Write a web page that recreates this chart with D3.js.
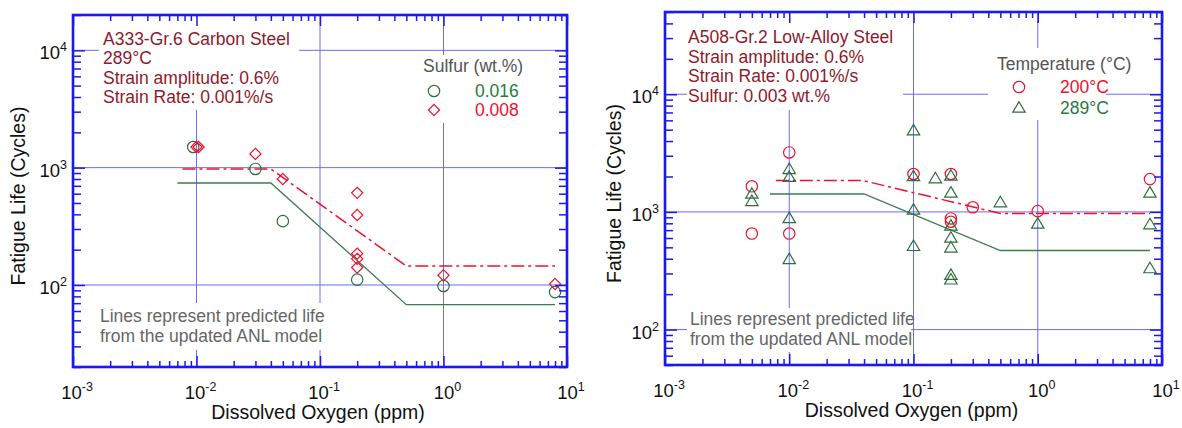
<!DOCTYPE html>
<html><head><meta charset="utf-8">
<script src="https://cdn.jsdelivr.net/npm/d3@7"></script>
<style>
body{margin:0;background:#fff}
svg{display:block}
text{font-family:"Liberation Sans",Arial,sans-serif}
</style>
</head><body>
<svg id="chart" width="1182" height="428"></svg>
<script>
// ---------------- DATA ----------------
const xTickExponents = ["-3", "-2", "-1", "0", "1"];
const xTickValues = [0.001, 0.01, 0.1, 1, 10];
const yTickExponents = ["2", "3", "4"];
const yTickValues = [100, 1000, 10000];
const gridXValues = [0.01, 0.1, 1];
const gridYValues = [100, 1000, 10000];

// Left panel: A333-Gr.6 carbon steel
const leftTitleLines = ["A333-Gr.6 Carbon Steel", "289°C", "Strain amplitude: 0.6%", "Strain Rate: 0.001%/s"];
const leftLegendTitle = "Sulfur (wt.%)";
const leftSeriesNames = ["0.016", "0.008"];
const leftS016_DO = [0.0094, 0.03, 0.05, 0.2, 1.0, 8];
const leftS016_N  = [1500, 975, 350, 111, 98, 87];
const leftS008_DO = [0.0100, 0.0104, 0.03, 0.05, 0.2, 0.2, 0.2, 0.2, 0.2, 1.0, 8];
const leftS008_N  = [1500, 1500, 1310, 800, 610, 395, 185, 167, 141, 121, 102];
const leftModel016_DO = [0.007, 0.04, 0.5, 8];
const leftModel016_N  = [740, 740, 68, 68];
const leftModel008_DO = [0.0077, 0.04, 0.5, 8];
const leftModel008_N  = [975, 975, 145, 145];

// Right panel: A508-Gr.2 low-alloy steel
const rightTitleLines = ["A508-Gr.2 Low-Alloy Steel", "Strain amplitude: 0.6%", "Strain Rate: 0.001%/s", "Sulfur: 0.003 wt.%"];
const rightLegendTitle = "Temperature (°C)";
const rightSeriesNames = ["200°C", "289°C"];
const right200_DO = [0.005, 0.005, 0.01, 0.01, 0.1, 0.2, 0.2, 0.2, 0.3, 1.0, 8];
const right200_N  = [1650, 655, 3200, 655, 2100, 2100, 880, 825, 1095, 1015, 1900];
const right289_DO = [0.005, 0.005, 0.01, 0.01, 0.01, 0.01, 0.1, 0.1, 0.1, 0.1, 0.15, 0.2, 0.2, 0.2, 0.2, 0.2, 0.2, 0.2, 0.5, 1.0, 8, 8, 8];
const right289_N  = [1420, 1230, 2300, 1970, 880, 395, 4900, 2000, 1040, 510, 1920, 2020, 1450, 760, 600, 495, 290, 265, 1200, 790, 1450, 780, 330];
const rightModel289_DO = [0.007, 0.04, 0.5, 8];
const rightModel289_N  = [1420, 1420, 470, 470];
const rightModel200_DO = [0.0078, 0.039, 0.5, 8];
const rightModel200_N  = [1850, 1850, 970, 970];

const noteLines = ["Lines represent predicted life", "from the updated ANL model"];
const xAxisTitle = "Dissolved Oxygen (ppm)";
const yAxisTitle = "Fatigue Life (Cycles)";

// ---------------- STYLE ----------------
const FRAME = "#1a1af0", GRID = "#6c6cf4";
const RED = "#ec1230", GREEN = "#2f6e3e", GREENLINE = "#3d7d4c";
const DARKRED = "#8e1a2c", GRAY = "#666666";
const FS = 17.5;

const svg = d3.select("#chart");

const symCircle = { draw(ctx, s){ const r = 5.7; ctx.moveTo(r,0); ctx.arc(0,0,r,0,2*Math.PI); } };
const symDiamond = { draw(ctx, s){ const a = 5.6; ctx.moveTo(0,-a); ctx.lineTo(a,0); ctx.lineTo(0,a); ctx.lineTo(-a,0); ctx.closePath(); } };
const symTriangle = { draw(ctx, s){ const w = 6.2, h = 10.5; ctx.moveTo(0,-h*0.6); ctx.lineTo(w,h*0.4); ctx.lineTo(-w,h*0.4); ctx.closePath(); } };

function drawPanel(o) {
  const x = d3.scaleLog().domain(o.xDomain).range([o.x0, o.x1]);
  const y = d3.scaleLog().domain(o.yDomain).range([o.y1, o.y0]);
  const g = svg.append("g");

  // grid
  g.selectAll(".gx").data(gridXValues).join("line")
    .attr("x1", d => x(d)).attr("x2", d => x(d)).attr("y1", o.y0).attr("y2", o.y1)
    .attr("stroke", GRID).attr("stroke-width", 1);
  g.selectAll(".gy").data(gridYValues).join("line")
    .attr("y1", d => y(d)).attr("y2", d => y(d)).attr("x1", o.x0).attr("x2", o.x1)
    .attr("stroke", GRID).attr("stroke-width", 1);

  // white boxes behind texts
  o.boxes.forEach(b => g.append("rect").attr("x", b[0]).attr("y", b[1]).attr("width", b[2]).attr("height", b[3]).attr("fill", "#fff"));

  // annotation text
  o.titleLines.forEach((t, i) => g.append("text").attr("x", o.titleX).attr("y", o.titleY + i * o.titleDy)
    .attr("fill", DARKRED).attr("font-size", FS).text(t));
  noteLines.forEach((t, i) => g.append("text").attr("x", o.noteX).attr("y", o.noteY + i * 20)
    .attr("fill", GRAY).attr("font-size", FS).text(t));

  // legend
  g.append("text").attr("x", o.legX).attr("y", o.legY).attr("fill", "#555").attr("font-size", FS).text(o.legendTitle);
  o.legendItems.forEach((it, i) => {
    const cy = o.legY + o.legRow0 + i * o.legRowDy;
    g.append("path").attr("d", d3.symbol().type(it.sym)()).attr("transform", `translate(${o.legSymX},${cy})`)
      .attr("fill", "none").attr("stroke", it.color).attr("stroke-width", 1.2);
    g.append("text").attr("x", o.legTextX).attr("y", cy + 5.5).attr("fill", it.textColor).attr("font-size", FS).text(it.name);
  });

  // model lines
  const line = d3.line().x(d => x(d[0])).y(d => y(d[1]));
  o.models.forEach(m => {
    g.append("path").attr("d", line(d3.zip(m.xs, m.ys))).attr("fill", "none")
      .attr("stroke", m.color).attr("stroke-width", m.width)
      .attr("stroke-dasharray", m.dash || null);
  });

  // points
  o.series.forEach(s => {
    g.selectAll(null).data(d3.zip(s.xs, s.ys)).join("path")
      .attr("d", d3.symbol().type(s.sym)())
      .attr("transform", d => `translate(${x(d[0])},${y(d[1])})`)
      .attr("fill", "none").attr("stroke", s.color).attr("stroke-width", 1.2);
  });

  // ticks via d3 axes (inward)
  const allX = x.ticks(), allY = y.ticks();
  const isMajor = v => Math.abs(Math.log10(v) - Math.round(Math.log10(v))) < 1e-9;
  const minorX = allX.filter(v => !isMajor(v)), minorY = allY.filter(v => !isMajor(v));
  const majorX = xTickValues, majorY = yTickValues;
  function addAxis(axisFn, scale, vals, size, transform) {
    const a = g.append("g").attr("transform", transform)
      .call(axisFn(scale).tickValues(vals).tickSize(-size).tickFormat(""));
    a.select(".domain").remove();
    a.selectAll(".tick line").attr("stroke", FRAME).attr("stroke-width", 1.5);
  }
  addAxis(d3.axisBottom, x, minorX, 6, `translate(0,${o.y1})`);
  addAxis(d3.axisBottom, x, majorX, 11, `translate(0,${o.y1})`);
  addAxis(d3.axisTop, x, minorX, 6, `translate(0,${o.y0})`);
  addAxis(d3.axisTop, x, majorX, 11, `translate(0,${o.y0})`);
  addAxis(d3.axisLeft, y, minorY, 8, `translate(${o.x0},0)`);
  addAxis(d3.axisLeft, y, majorY, 12, `translate(${o.x0},0)`);
  addAxis(d3.axisRight, y, minorY, 8, `translate(${o.x1},0)`);
  addAxis(d3.axisRight, y, majorY, 12, `translate(${o.x1},0)`);

  // frame
  g.append("rect").attr("x", o.x0).attr("y", o.y0).attr("width", o.x1 - o.x0).attr("height", o.y1 - o.y0)
    .attr("fill", "none").attr("stroke", FRAME).attr("stroke-width", 2.6);

  // tick labels
  majorX.forEach((v, i) => {
    const t = g.append("text").attr("x", x(v) + 4).attr("y", o.y1 + 32).attr("text-anchor", "middle")
      .attr("font-size", 18.5).attr("fill", "#111");
    t.append("tspan").text("10");
    t.append("tspan").attr("font-size", 12.5).attr("dy", -8).text(xTickExponents[i]);
  });
  majorY.forEach((v, i) => {
    const t = g.append("text").attr("x", o.x0 - 6).attr("y", y(v) + 9).attr("text-anchor", "end")
      .attr("font-size", 18.5).attr("fill", "#111");
    t.append("tspan").text("10");
    t.append("tspan").attr("font-size", 12.5).attr("dy", -8).text(yTickExponents[i]);
  });

  // axis titles
  g.append("text").attr("x", (o.x0 + o.x1) / 2 - 2).attr("y", o.y1 + 52).attr("text-anchor", "middle")
    .attr("font-size", 19.5).attr("fill", "#111").text(xAxisTitle);
  g.append("text").attr("transform", `translate(${o.yTitleX},${(o.y0 + o.y1) / 2 + 5}) rotate(-90)`)
    .attr("text-anchor", "middle").attr("font-size", 19.5).attr("fill", "#111").text(yAxisTitle);
}

drawPanel({
  x0: 73, x1: 567, y0: 15, y1: 367,
  xDomain: [0.001, 10], yDomain: [20, 20000],
  boxes: [[99, 17, 200, 93], [415, 55, 125, 68], [97, 303, 229, 47]],
  titleLines: leftTitleLines, titleX: 103, titleY: 45, titleDy: 19.4,
  noteX: 100, noteY: 322,
  legendTitle: leftLegendTitle, legX: 423, legY: 72, legRow0: 19, legRowDy: 19, legSymX: 434, legTextX: 475,
  legendItems: [
    { name: leftSeriesNames[0], sym: symCircle, color: GREEN, textColor: "#2a7a3c" },
    { name: leftSeriesNames[1], sym: symDiamond, color: RED, textColor: RED }
  ],
  models: [
    { xs: leftModel016_DO, ys: leftModel016_N, color: GREENLINE, width: 1.3 },
    { xs: leftModel008_DO, ys: leftModel008_N, color: RED, width: 1.5, dash: "13,4,3,4" }
  ],
  series: [
    { xs: leftS016_DO, ys: leftS016_N, sym: symCircle, color: GREEN },
    { xs: leftS008_DO, ys: leftS008_N, sym: symDiamond, color: RED }
  ],
  yTitleX: 25
});

drawPanel({
  x0: 665, x1: 1162, y0: 12, y1: 365,
  xDomain: [0.001, 10], yDomain: [50, 50000],
  boxes: [[687, 14, 216, 96], [988, 48, 118, 72], [687, 308, 224, 44]],
  titleLines: rightTitleLines, titleX: 688, titleY: 43, titleDy: 19.7,
  noteX: 690, noteY: 325,
  legendTitle: rightLegendTitle, legX: 997, legY: 70, legRow0: 17, legRowDy: 21, legSymX: 1019, legTextX: 1060,
  legendItems: [
    { name: rightSeriesNames[0], sym: symCircle, color: RED, textColor: RED },
    { name: rightSeriesNames[1], sym: symTriangle, color: GREEN, textColor: "#2a7a3c" }
  ],
  models: [
    { xs: rightModel289_DO, ys: rightModel289_N, color: GREENLINE, width: 1.3 },
    { xs: rightModel200_DO, ys: rightModel200_N, color: RED, width: 1.5, dash: "13,4,3,4" }
  ],
  series: [
    { xs: right200_DO, ys: right200_N, sym: symCircle, color: RED },
    { xs: right289_DO, ys: right289_N, sym: symTriangle, color: GREEN }
  ],
  yTitleX: 621
});
</script>
</body></html>
